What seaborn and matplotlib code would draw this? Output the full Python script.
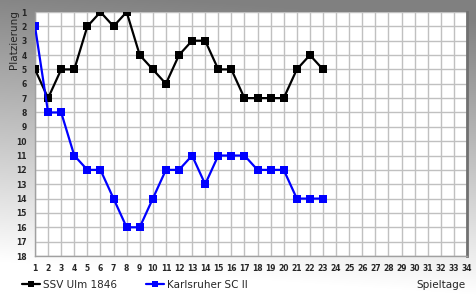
import numpy as np
import pandas as pd
import matplotlib
matplotlib.use("Agg")
import matplotlib.pyplot as plt
from matplotlib.lines import Line2D
import seaborn as sns

spieltage = list(range(1, 24))
ulm = [5, 7, 5, 5, 2, 1, 2, 1, 4, 5, 6, 4, 3, 3, 5, 5, 7, 7, 7, 7, 5, 4, 5]
ksc = [2, 8, 8, 11, 12, 12, 14, 16, 16, 14, 12, 12, 11, 13, 11, 11, 11, 12, 12, 12, 14, 14, 14]
teams = ["SSV Ulm 1846", "Karlsruher SC II"]
colors = ["#000000", "#0000ff"]
x_ticks = list(range(1, 35))
y_ticks = list(range(1, 19))

df = pd.DataFrame({
    "Spieltag": spieltage * 2,
    "Platz": ulm + ksc,
    "Team": [teams[0]] * len(ulm) + [teams[1]] * len(ksc),
})

sns.set_style("white")
plt.rcParams['font.family'] = ['DejaVu Sans']

W, H = 477, 295
fig = plt.figure(figsize=(W / 100, H / 100), dpi=100)

# background gradient
bg = fig.add_axes([0, 0, 1, 1], zorder=-10)
yy, xx = np.mgrid[0:H, 0:W]
t = yy / 275.0 - 0.12 * (xx / W) + 0.05
t = np.clip(t, 0, 1)
val = (128 + (255 - 128) * t) / 255.0
img = np.dstack([val, val, val])
bg.imshow(img, aspect='auto', extent=[0, 1, 0, 1], origin='upper')
bg.set_axis_off()

ax = fig.add_axes([35 / W, 1 - 256 / H, (467 - 35) / W, (256 - 12) / H])
ax.set_facecolor("white")

sns.lineplot(data=df, x="Spieltag", y="Platz", hue="Team", hue_order=teams,
             palette=colors, marker="s", markersize=5.5, markeredgewidth=0,
             linewidth=1.6, legend=False, ax=ax, zorder=5)

ax.set_xlim(1, 34)
ax.set_ylim(18, 1)
ax.set_xticks(x_ticks)
ax.set_yticks(y_ticks)
ax.set_xticklabels([str(v) for v in x_ticks], fontsize=5.5, fontweight='bold')
ax.set_yticklabels([str(v) for v in y_ticks], fontsize=5.5, fontweight='bold')
ax.tick_params(axis='y', length=0, pad=6)
ax.tick_params(axis='x', length=0, pad=5.5)
ax.grid(True, color="#c0c0c0", linewidth=1.0)
ax.set_axisbelow(True)
for side in ["left", "bottom"]:
    ax.spines[side].set_color("#a0a0a0")
    ax.spines[side].set_linewidth(1.0)
ax.spines["top"].set_visible(False)
ax.spines["right"].set_color("#707070")
ax.spines["right"].set_linewidth(2.0)
ax.set_xlabel("")
ax.set_ylabel("")

fig.text(14 / W, 1 - 10 / H, "Platzierung", rotation=90, ha='center', va='top', fontsize=7.5)
fig.text(466 / W, 1 - 285 / H, "Spieltage", ha='right', va='center', fontsize=7.5)

handles = [Line2D([], [], color=c, marker='s', markersize=5, linewidth=1.6, markeredgewidth=0)
           for c in colors]
fig.legend(handles, teams, loc='center left', bbox_to_anchor=(22 / W, 1 - 285 / H),
           ncol=2, frameon=False, fontsize=7.5, handlelength=1.7, handletextpad=0.3,
           columnspacing=2.8, borderpad=0, borderaxespad=0)

fig.savefig("out.png", dpi=100)
